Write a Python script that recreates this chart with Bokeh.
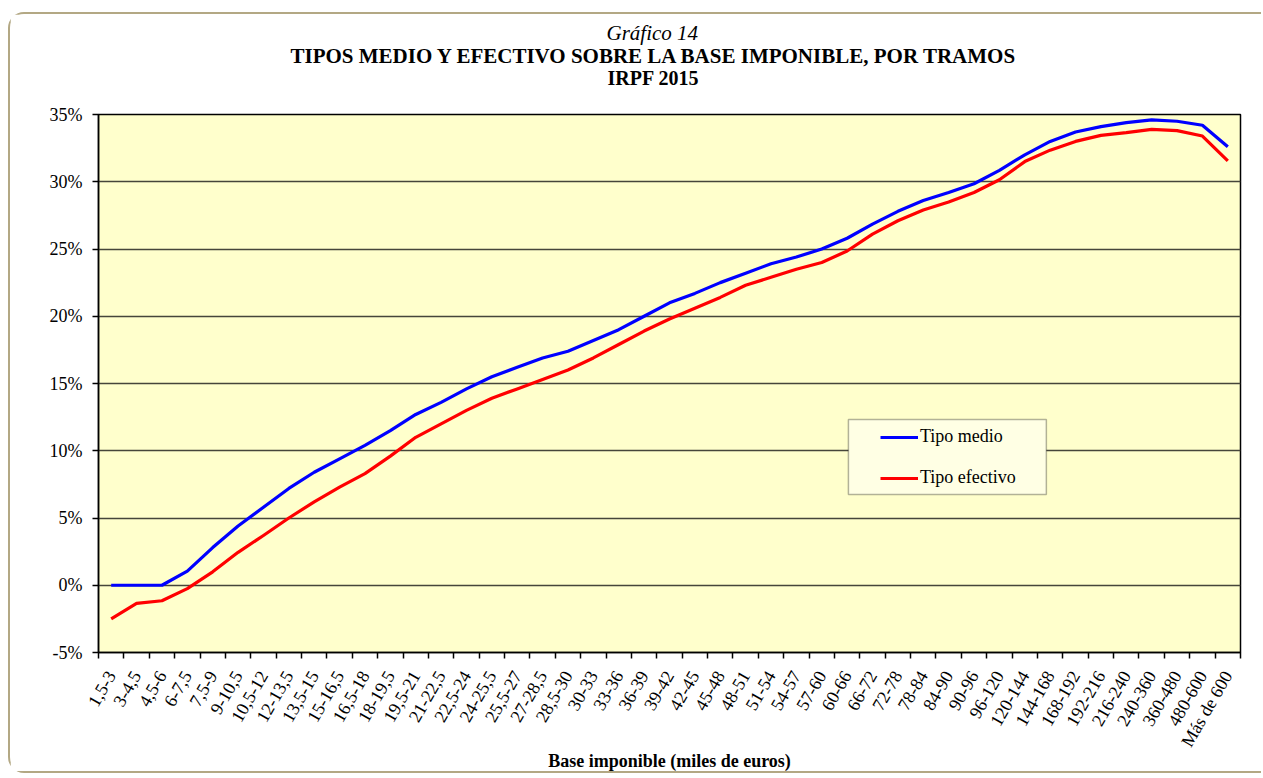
import math
from bokeh.plotting import figure
from bokeh.models import (Range1d, FixedTicker, Legend, LegendItem, Title,
                          BoxAnnotation, PrintfTickFormatter, ColumnDataSource)
from bokeh.embed import file_html
from bokeh.resources import INLINE

categories = ["1,5-3", "3-4,5", "4,5-6", "6-7,5", "7,5-9", "9-10,5", "10,5-12",
              "12-13,5", "13,5-15", "15-16,5", "16,5-18", "18-19,5", "19,5-21",
              "21-22,5", "22,5-24", "24-25,5", "25,5-27", "27-28,5", "28,5-30",
              "30-33", "33-36", "36-39", "39-42", "42-45", "45-48", "48-51",
              "51-54", "54-57", "57-60", "60-66", "66-72", "72-78", "78-84",
              "84-90", "90-96", "96-120", "120-144", "144-168", "168-192",
              "192-216", "216-240", "240-360", "360-480", "480-600", "Más de 600"]

tipo_medio = [0.0, 0.0, 0.0, 1.05, 2.8, 4.4, 5.8, 7.2, 8.4, 9.4, 10.4, 11.5,
              12.7, 13.6, 14.6, 15.5, 16.2, 16.9, 17.4, 18.2, 19.0, 20.0, 21.0,
              21.7, 22.5, 23.2, 23.9, 24.4, 25.0, 25.8, 26.85, 27.8, 28.6, 29.2,
              29.85, 30.85, 32.0, 33.0, 33.7, 34.1, 34.4, 34.6, 34.5, 34.2, 32.6]

tipo_efectivo = [-2.5, -1.35, -1.15, -0.25, 1.0, 2.45, 3.7, 5.0, 6.2, 7.3, 8.3,
                 9.6, 11.0, 12.0, 13.0, 13.9, 14.6, 15.3, 16.0, 16.9, 17.9, 18.9,
                 19.8, 20.6, 21.4, 22.3, 22.9, 23.5, 24.0, 24.85, 26.1, 27.1,
                 27.9, 28.5, 29.2, 30.15, 31.5, 32.35, 33.0, 33.45, 33.65, 33.9,
                 33.8, 33.4, 31.55]

y_ticks = [-5, 0, 5, 10, 15, 20, 25, 30, 35]

FONT = "Liberation Serif"
n = len(categories)
idx = list(range(n))
src = ColumnDataSource(dict(x=idx, medio=tipo_medio, efectivo=tipo_efectivo))

p = figure(width=1253, height=761, title=None,
           x_range=Range1d(-0.5, n - 0.5), y_range=Range1d(-5, 35),
           output_backend="svg", toolbar_location=None,
           min_border_left=88, min_border_right=23,
           min_border_top=100, min_border_bottom=123)
p.background_fill_color = "#FFFFCC"
p.border_fill_color = "white"
p.outline_line_color = "black"
p.outline_line_width = 1.5
p.styles = {"border-left": "2px solid #b3a884", "border-top": "2px solid #b3a884",
            "border-bottom": "2px solid #b3a884",
            "border-top-left-radius": "16px", "border-bottom-left-radius": "16px",
            "margin-top": "12px", "margin-left": "8px"}

# grid
p.xgrid.visible = False
p.ygrid.ticker = FixedTicker(ticks=y_ticks)
p.ygrid.grid_line_color = "#46463a"
p.ygrid.grid_line_width = 1.5

# x axis
xa = p.xaxis[0]
xa.ticker = FixedTicker(ticks=idx, minor_ticks=[i - 0.5 for i in range(n + 1)])
xa.major_label_overrides = {i: c for i, c in enumerate(categories)}
xa.major_label_orientation = math.pi / 3
xa.major_tick_out = 0
xa.major_tick_in = 0
xa.minor_tick_out = 6
xa.minor_tick_in = 0
xa.minor_tick_line_color = "black"
xa.minor_tick_line_width = 1.5
xa.axis_line_color = "black"
xa.axis_line_width = 1.5
xa.major_label_standoff = 14
xa.major_label_text_font = FONT
xa.major_label_text_font_size = "18px"
xa.major_label_text_color = "black"
xa.axis_label = "Base imponible (miles de euros)"
xa.axis_label_text_font = FONT
xa.axis_label_text_font_size = "18px"
xa.axis_label_text_font_style = "bold"
xa.axis_label_text_color = "black"
xa.axis_label_standoff = -7

# y axis
ya = p.yaxis[0]
ya.ticker = FixedTicker(ticks=y_ticks)
ya.formatter = PrintfTickFormatter(format="%d%%")
ya.major_tick_out = 6
ya.major_tick_in = 0
ya.minor_tick_out = 0
ya.minor_tick_in = 0
ya.major_tick_line_color = "black"
ya.major_tick_line_width = 1.5
ya.axis_line_color = "black"
ya.axis_line_width = 1.5
ya.major_label_standoff = 10
ya.major_label_text_font = FONT
ya.major_label_text_font_size = "18px"
ya.major_label_text_color = "black"

r_medio = p.line("x", "medio", source=src, line_color="#0000FF", line_width=3.2,
                 line_join="round")
r_efectivo = p.line("x", "efectivo", source=src, line_color="#FF0000", line_width=3.2,
                    line_join="round")

# legend box
box = BoxAnnotation(left=29.05, right=36.85, bottom=6.75, top=12.32,
                    fill_color="#FFFFE4", fill_alpha=1.0,
                    line_color="black", line_width=1.5, level="annotation")
p.add_layout(box)

legend = Legend(items=[LegendItem(label="Tipo medio", renderers=[r_medio]),
                       LegendItem(label="Tipo efectivo", renderers=[r_efectivo])],
                location=(782, 164), padding=0, margin=0, spacing=20,
                glyph_width=38, glyph_height=20, label_height=20,
                label_standoff=2,
                label_text_font=FONT, label_text_font_size="18px",
                label_text_color="black",
                background_fill_alpha=0, border_line_alpha=0)
p.add_layout(legend)

# titles (first added = closest to the plot); a thin spacer sits next to the plot
p.add_layout(Title(text=" ", text_font=FONT, text_font_size="1px",
                   standoff=25), "above")
p.add_layout(Title(text="IRPF 2015", text_font=FONT, text_font_size="20px",
                   text_font_style="bold", text_color="black", align="left",
                   offset=509, standoff=-4), "above")
p.add_layout(Title(text="TIPOS  MEDIO Y EFECTIVO  SOBRE LA BASE IMPONIBLE, POR TRAMOS",
                   text_font=FONT, text_font_size="21px", text_font_style="bold",
                   text_color="black", align="left", offset=192, standoff=-3), "above")
p.add_layout(Title(text="Gráfico 14", text_font=FONT, text_font_size="21px",
                   text_font_style="italic", text_color="black", align="left",
                   offset=508, standoff=-3), "above")

open("out.html", "w").write(file_html(p, INLINE))
